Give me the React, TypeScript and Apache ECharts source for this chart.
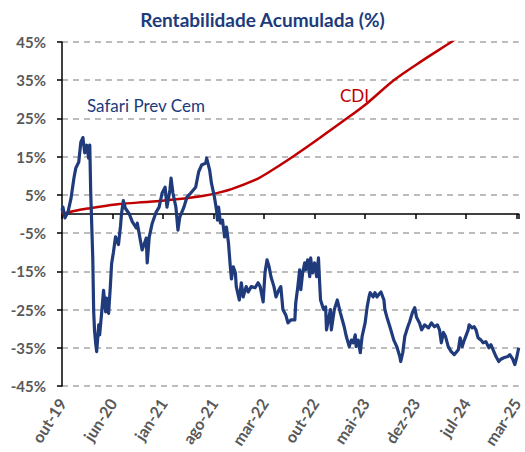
import React, { useEffect, useRef } from "react";
import * as echarts from "echarts";

// x values are days since the first observation (end of Oct 2019)
const tickLabels = ["out-19", "jun-20", "jan-21", "ago-21", "mar-22", "out-22", "mai-23", "dez-23", "jul-24", "mar-25"];
const tickStepDays = 220;
const lastDay = 1989;

const safariDays = [
  0, 4, 13, 26, 39, 52, 60, 73, 82, 91, 99, 108, 116, 121, 125, 134, 138, 142, 147, 151,
  160, 164, 173, 181, 190, 194, 203, 211, 216, 224, 233, 246, 255, 259, 267, 276, 293, 306, 324, 328,
  341, 349, 367, 371, 380, 393, 410, 423, 436, 449, 457, 470, 475, 483, 496, 505, 513, 531, 544, 561,
  582, 595, 608, 626, 630, 643, 651, 664, 673, 677, 682, 690, 699, 708, 716, 725, 733, 738, 746, 755,
  759, 772, 781, 789, 802, 811, 824, 841, 854, 863, 876, 884, 893, 902, 910, 923, 932, 945, 953, 962,
  975, 984, 997, 1014, 1018, 1027, 1035, 1040, 1048, 1057, 1061, 1070, 1079, 1083, 1091, 1100, 1109, 1117, 1122, 1126,
  1139, 1148, 1152, 1160, 1169, 1173, 1186, 1199, 1212, 1229, 1238, 1251, 1260, 1268, 1277, 1281, 1290, 1299, 1307, 1320,
  1329, 1337, 1342, 1355, 1363, 1372, 1380, 1389, 1402, 1406, 1415, 1428, 1445, 1458, 1471, 1475, 1484, 1493, 1506, 1514,
  1527, 1536, 1544, 1557, 1566, 1579, 1596, 1609, 1622, 1635, 1644, 1652, 1661, 1670, 1682, 1695, 1708, 1726, 1734, 1743,
  1752, 1769, 1773, 1786, 1795, 1803, 1812, 1825, 1834, 1846, 1859, 1868, 1877, 1890, 1902, 1911, 1924, 1941, 1950, 1963,
  1972, 1980, 1989,
];
const safariValues = [
  1.0, 1.8, -1.0, 0.5, 4.0, 9.4, 12.0, 13.6, 18.8, 20.0, 16.0, 18.0, 14.6, 18.0, 5.7, -11.5, -25.6, -30.8, -34.0, -36.0,
  -29.0, -31.6, -25.6, -20.0, -25.6, -22.0, -26.0, -18.5, -13.0, -10.0, -6.0, -8.0, -3.0, 0.0, 3.5, 1.5, 0.0, -2.0, -3.7, -2.4,
  -6.8, -9.4, -6.3, -12.8, -6.0, -2.4, 0.5, 1.8, 5.5, 7.0, 1.8, 6.3, 9.4, 5.5, 1.8, -4.2, -0.8, 1.8, 4.4, 5.5,
  7.0, 11.0, 12.8, 13.3, 14.6, 11.5, 8.0, 4.4, 1.0, -1.6, 1.8, -2.4, -1.6, -6.0, -3.4, -7.6, -13.8, -17.0, -13.8, -15.4,
  -19.0, -22.5, -18.0, -21.7, -19.0, -20.4, -19.0, -19.3, -18.0, -19.0, -23.0, -15.4, -12.0, -13.8, -16.4, -19.0, -21.7, -19.8, -19.0, -25.0,
  -26.5, -28.5, -27.7, -27.7, -23.2, -19.0, -14.6, -19.8, -15.4, -12.8, -14.6, -12.0, -16.4, -11.5, -15.4, -12.8, -16.4, -11.5, -18.0, -22.5,
  -25.0, -24.3, -30.3, -27.7, -25.0, -30.3, -25.0, -22.5, -25.8, -29.5, -32.0, -34.7, -33.0, -33.7, -31.6, -34.7, -33.0, -36.3, -32.0, -28.5,
  -24.3, -21.7, -20.6, -21.7, -20.6, -21.7, -21.0, -20.4, -22.5, -25.0, -27.0, -29.5, -33.0, -34.7, -37.3, -38.6, -36.3, -32.0, -29.5, -28.2,
  -25.6, -24.5, -27.0, -28.5, -30.3, -29.0, -29.8, -28.5, -29.5, -29.0, -30.3, -33.7, -31.0, -32.0, -34.7, -36.0, -36.8, -35.5, -32.4, -34.7,
  -33.0, -30.3, -29.0, -29.8, -29.5, -30.3, -32.4, -33.0, -33.7, -33.4, -35.0, -34.2, -35.5, -37.3, -38.6, -38.0, -37.6, -37.3, -36.8, -38.0,
  -39.4, -37.6, -35.0,
];

const cdiDays = [0, 78, 121, 250, 380, 522, 617, 669, 738, 841, 897, 1005, 1113, 1229, 1329, 1445, 1566, 1695, 1846, 1989];
const cdiValues = [0, 1.1, 1.5, 2.6, 3.2, 4.0, 4.8, 5.4, 6.5, 8.9, 10.8, 15.0, 19.5, 24.5, 29.0, 35.0, 40.0, 45.0, 51.0, 57.0];

const titleText = "Rentabilidade Acumulada (%)";
const safariName = "Safari Prev Cem";
const cdiName = "CDI";

const BLUE = "#203B7C";
const RED = "#C00000";
const GRAY = "#595959";
const FONT = "Lato, 'Open Sans', sans-serif";

export default function App() {
  const ref = useRef<HTMLDivElement>(null);
  useEffect(() => {
    if (!ref.current) return;
    const chart = echarts.init(ref.current, undefined, { renderer: "svg" });
    const zip = (xs: number[], ys: number[]) => xs.map((x, i) => [x, ys[i]]);
    chart.setOption({
      animation: false,
      backgroundColor: "#ffffff",
      title: {
        text: titleText,
        left: "center",
        top: 5,
        textStyle: { color: BLUE, fontFamily: FONT, fontWeight: "bold", fontSize: 19 },
      },
      grid: { left: 62, right: 2, top: 42, bottom: 66, containLabel: false },
      xAxis: [
        {
          type: "value",
          min: 0,
          max: lastDay,
          interval: tickStepDays,
          axisLine: { show: true, onZero: true, lineStyle: { color: "#000", width: 1.5 } },
          axisTick: { show: true, length: 5, lineStyle: { color: "#000", width: 1.5 } },
          axisLabel: { show: false },
          splitLine: { show: false },
        },
        {
          type: "value",
          position: "bottom",
          min: 0,
          max: lastDay,
          interval: tickStepDays,
          axisLine: { show: false, onZero: false },
          axisTick: { show: false },
          splitLine: { show: false },
          axisLabel: {
            show: true,
            rotate: 57,
            margin: 14,
            color: GRAY,
            fontFamily: FONT,
            fontWeight: "bold",
            fontSize: 16,
            showMaxLabel: false,
            formatter: (v: number) => {
              const i = v / tickStepDays;
              return Number.isInteger(i) && tickLabels[i] ? tickLabels[i] : "";
            },
          },
        },
      ],
      yAxis: {
        type: "value",
        min: -45,
        max: 45,
        interval: 10,
        axisLine: { show: true, lineStyle: { color: "#000", width: 1.5 } },
        axisTick: { show: true, length: 5, lineStyle: { color: "#000", width: 1.5 } },
        axisLabel: {
          color: GRAY,
          fontFamily: FONT,
          fontWeight: "bold",
          fontSize: 15,
          margin: 16,
          formatter: (v: number) => `${v}%`,
        },
        splitLine: { show: true, lineStyle: { color: "#A6A6A6", width: 1.5, type: [6, 5] } },
      },
      graphic: [
        {
          type: "text",
          left: 87,
          top: 97,
          style: { text: safariName, fill: BLUE, font: `17px ${FONT}` },
        },
        {
          type: "text",
          left: 340,
          top: 87,
          style: { text: cdiName, fill: RED, font: `17px ${FONT}` },
        },
      ],
      series: [
        {
          name: cdiName,
          type: "line",
          xAxisIndex: 0,
          data: zip(cdiDays, cdiValues),
          showSymbol: false,
          smooth: 0.3,
          lineStyle: { color: RED, width: 2.5 },
        },
        {
          name: safariName,
          type: "line",
          xAxisIndex: 0,
          data: zip(safariDays, safariValues),
          showSymbol: false,
          lineStyle: { color: BLUE, width: 3.2, join: "round" },
        },
      ],
    });
    return () => chart.dispose();
  }, []);
  return <div ref={ref} style={{ width: 525, height: 452, position: "absolute", left: 0, top: 0 }} />;
}
